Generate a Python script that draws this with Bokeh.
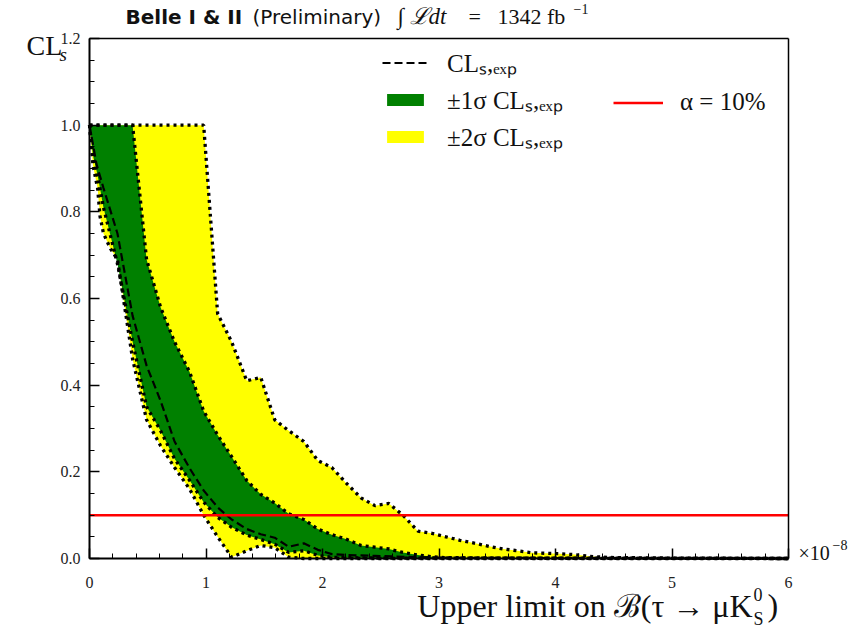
from bokeh.plotting import figure
from bokeh.models import (Range1d, FixedTicker, Label, Legend, LegendItem, LinearAxis)
from bokeh.embed import file_html
from bokeh.resources import INLINE

# ---------------- data (x in units of 1e-8) ----------------
# +2 sigma (upper edge of yellow band)
x_p2 = [0, 0.98, 1.10, 1.22, 1.35, 1.47, 1.59, 1.71, 1.84, 1.96, 2.08, 2.20, 2.33, 2.45,
        2.57, 2.69, 2.82, 2.94, 3.06, 3.18, 3.31, 3.43, 3.55, 3.67, 3.80, 3.92, 4.04, 4.16,
        4.29, 4.41, 4.53, 5.0, 6.0]
y_p2 = [1.0, 1.0, 0.565, 0.50, 0.41, 0.418, 0.32, 0.295, 0.27, 0.226, 0.21, 0.175, 0.14, 0.122,
        0.127, 0.10, 0.063, 0.058, 0.05, 0.042, 0.035, 0.028, 0.022, 0.018, 0.013, 0.012, 0.011, 0.009,
        0.005, 0.003, 0.002, 0.001, 0.0]
# +1 sigma (upper edge of green band)
x_p1 = [0, 0.37, 0.49, 0.61, 0.73, 0.86, 0.98, 1.10, 1.22, 1.35, 1.47, 1.59, 1.71, 1.84, 1.96,
        2.08, 2.20, 2.33, 2.45, 2.57, 2.69, 2.82, 2.94, 3.06, 3.5, 6.0]
y_p1 = [1.0, 1.0, 0.69, 0.58, 0.50, 0.43, 0.34, 0.285, 0.235, 0.18, 0.148, 0.128, 0.103, 0.09, 0.068,
        0.055, 0.045, 0.03, 0.026, 0.022, 0.014, 0.008, 0.004, 0.002, 0.001, 0.0]
# median expected CLs
x_med = [0, 0.06, 0.12, 0.24, 0.37, 0.49, 0.61, 0.73, 0.86, 0.98, 1.10, 1.22, 1.35, 1.47, 1.59,
         1.71, 1.84, 1.96, 2.08, 2.20, 2.33, 2.45, 2.7, 3.0, 4.0, 6.0]
y_med = [1.0, 0.91, 0.855, 0.75, 0.56, 0.445, 0.364, 0.27, 0.208, 0.157, 0.118, 0.09, 0.068, 0.056, 0.048,
         0.027, 0.035, 0.02, 0.01, 0.008, 0.007, 0.006, 0.004, 0.002, 0.001, 0.0]
# -1 sigma (lower edge of green band)
x_m1 = [0, 0.03, 0.07, 0.12, 0.24, 0.37, 0.49, 0.61, 0.73, 0.86, 0.98, 1.10, 1.22, 1.35, 1.47,
        1.59, 1.71, 1.84, 1.96, 2.08, 2.20, 2.5, 6.0]
y_m1 = [1.0, 0.93, 0.884, 0.81, 0.68, 0.50, 0.35, 0.295, 0.23, 0.18, 0.13, 0.095, 0.072, 0.054, 0.044,
        0.033, 0.014, 0.018, 0.007, 0.003, 0.002, 0.001, 0.0]
# -2 sigma (lower edge of yellow band)
x_m2 = [0, 0.03, 0.07, 0.09, 0.12, 0.18, 0.24, 0.37, 0.49, 0.61, 0.73, 0.86, 0.98, 1.10, 1.22,
        1.35, 1.47, 1.59, 1.71, 1.84, 6.0]
y_m2 = [1.0, 0.907, 0.854, 0.79, 0.75, 0.715, 0.69, 0.46, 0.32, 0.26, 0.21, 0.16, 0.10, 0.05, 0.003,
        0.018, 0.03, 0.025, 0.003, 0.0, 0.0]
# alpha level
x_alpha = [0, 6]
alpha_level = 0.1

x_ticks = [0, 1, 2, 3, 4, 5, 6]
y_ticks = [0.0, 0.2, 0.4, 0.6, 0.8, 1.0, 1.2]

SERIF = "Liberation Serif"
SANS = "DejaVu Sans"

# page geometry: plot box spans px 89..788 horizontally and 38..558 vertically
W, H = 862, 639
BOX_L, BOX_R, BOX_T, BOX_B = 89, 788, 38, 558
XMIN, XMAX = x_ticks[0], x_ticks[-1]
YMIN, YMAX = y_ticks[0], y_ticks[-1]
sx = (BOX_R - BOX_L) / (XMAX - XMIN)
sy = (BOX_B - BOX_T) / (YMAX - YMIN)


def px_x(X):
    return XMIN + (X - BOX_L) / sx


def px_y(Y):
    return YMIN + (BOX_B - Y) / sy


p = figure(width=W, height=H, output_backend="svg", toolbar_location=None,
           x_range=Range1d(px_x(0), px_x(W)), y_range=Range1d(px_y(H), px_y(0)),
           x_axis_location=None, y_axis_location=None,
           min_border=0)
p.background_fill_color = "white"
p.border_fill_color = "white"
p.grid.visible = False
p.outline_line_color = None

# bands
yellow = p.patch(x_p2 + x_m2[::-1], y_p2 + y_m2[::-1], fill_color="#ffff00", line_color=None)
green = p.patch(x_p1 + x_m1[::-1], y_p1 + y_m1[::-1], fill_color="#008000", line_color=None)
for xs, ys in [(x_p2, y_p2), (x_m2, y_m2), (x_p1, y_p1), (x_m1, y_m1)]:
    p.line(xs, ys, line_color="black", line_width=3.3, line_dash="3 4")
med = p.line(x_med, y_med, line_color="black", line_width=2.2, line_dash="8 4")
red = p.line(x_alpha, [alpha_level] * len(x_alpha), line_color="#ff0000", line_width=2.5)


def style_axis(ax, ticks, minor, labels, width):
    ax.ticker = FixedTicker(ticks=ticks, minor_ticks=minor)
    ax.axis_line_width = width
    ax.axis_line_color = "black"
    ax.major_tick_in = 10
    ax.major_tick_out = 0
    ax.minor_tick_in = 5
    ax.minor_tick_out = 0
    ax.major_tick_line_width = 1.5
    ax.minor_tick_line_width = 1
    ax.major_label_text_font = SERIF
    ax.major_label_text_font_size = "16px"
    ax.major_label_text_color = "#222222"
    if labels:
        ax.major_label_overrides = labels
    else:
        ax.major_label_text_font_size = "0px"


xaxis = LinearAxis(fixed_location=YMIN, bounds=(XMIN, XMAX))
style_axis(xaxis, x_ticks, [XMIN + i * 0.2 for i in range(31)], {t: str(t) for t in x_ticks}, 2)
xaxis.major_label_standoff = 18
p.add_layout(xaxis, "below")

yaxis = LinearAxis(fixed_location=XMIN, bounds=(YMIN, YMAX))
style_axis(yaxis, y_ticks, [YMIN + i * 0.05 for i in range(25)], {t: f"{t:.1f}" for t in y_ticks}, 2)
yaxis.major_label_standoff = 9
p.add_layout(yaxis, "left")

top_axis = LinearAxis(fixed_location=YMAX, bounds=(XMIN, XMAX))
style_axis(top_axis, [], [], None, 1.5)
top_axis.major_tick_line_color = None
top_axis.minor_tick_line_color = None
p.add_layout(top_axis, "above")

right_axis = LinearAxis(fixed_location=XMAX, bounds=(YMIN, YMAX))
style_axis(right_axis, [], [], None, 1.5)
right_axis.major_tick_line_color = None
right_axis.minor_tick_line_color = None
p.add_layout(right_axis, "right")


def lab(text, X, Y, size, font=SERIF, style="normal", align="left", color="#111111"):
    p.add_layout(Label(x=px_x(X), y=px_y(Y), text=text, text_font=font, text_font_size=size,
                       text_font_style=style, text_align=align, text_baseline="middle",
                       text_color=color))


# title
lab("Belle I & II", 125, 16, "20px", font=SANS, style="bold")
lab("(Preliminary)", 252, 16, "20px", font=SANS)
lab("∫ ℒdt", 397, 16, "23px", style="italic")
lab("=", 468, 16, "22px")
lab("1342 fb", 497, 16, "22px")
lab("−1", 573, 8, "14px")

# y label
lab("CL", 26, 45, "28px")
lab("s", 59, 54, "19px", style="italic")

# x label
lab("Upper limit on ℬ(τ → μK", 752, 605, "32px", align="right")
lab("0", 753, 594, "18px")
lab("S", 753, 618, "18px")
lab(")", 767, 604, "32px")

# exponent
lab("×10", 798, 552, "20px")
lab("−8", 832, 544, "14px")

# legends (locations in px from bottom-left of the canvas)
leg1 = Legend(items=[LegendItem(label="CLₛ,ₑₓₚ", renderers=[med]),
                     LegendItem(label="±1σ CLₛ,ₑₓₚ", renderers=[green]),
                     LegendItem(label="±2σ CLₛ,ₑₓₚ", renderers=[yellow])],
              location=(382, 486), orientation="vertical")
leg2 = Legend(items=[LegendItem(label="α = 10%", renderers=[red])],
              location=(613, 523))
for lg, gw, st in ((leg1, 46, 19), (leg2, 50, 17)):
    lg.glyph_width = gw
    lg.glyph_height = 15
    lg.label_height = 28
    lg.spacing = 3
    lg.padding = 0
    lg.margin = 0
    lg.label_standoff = st
    lg.border_line_color = None
    lg.background_fill_alpha = 0
    lg.label_text_font = SERIF
    lg.label_text_font_size = "25px"
    lg.label_text_color = "#111111"
    p.add_layout(lg, "center")

open("out.html", "w").write(file_html(p, INLINE))
